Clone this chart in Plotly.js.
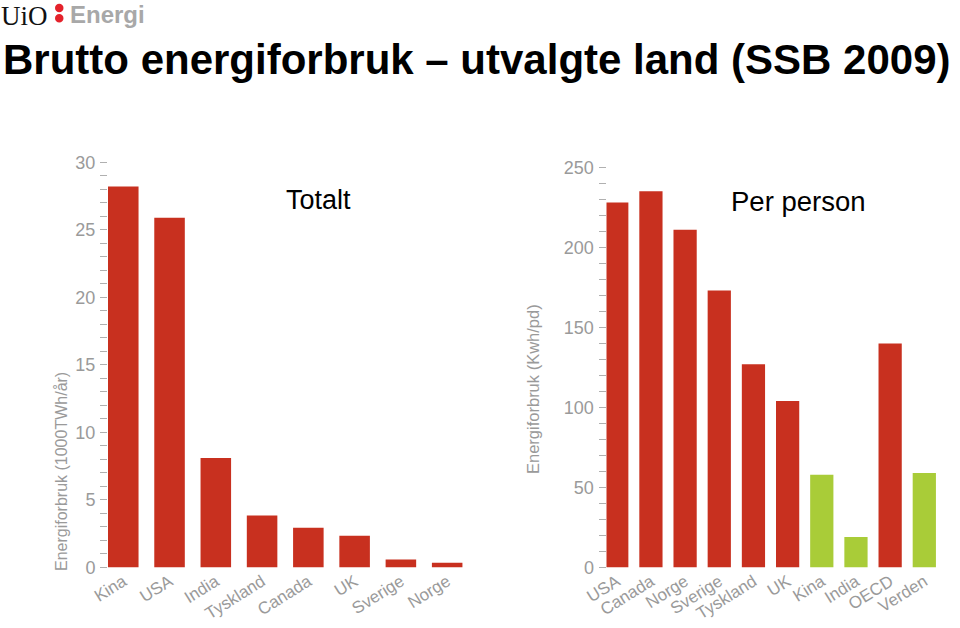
<!DOCTYPE html>
<html>
<head>
<meta charset="utf-8">
<script src="https://cdn.plot.ly/plotly-3.0.1.min.js"></script>
<style>html,body{margin:0;padding:0;background:#fff;}#chart{width:960px;height:628px;}</style>
</head>
<body>
<div id="chart"></div>
<script>
// ---- data ----
var totalCountries = ["Kina", "USA", "India", "Tyskland", "Canada", "UK", "Sverige", "Norge"];
var totalValues = [28.2, 25.9, 8.1, 3.85, 2.95, 2.35, 0.6, 0.36];
var perCountries = ["USA", "Canada", "Norge", "Sverige", "Tyskland", "UK", "Kina", "India", "OECD", "Verden"];
var perValues = [228, 235, 211, 173, 127, 104, 58, 19, 140, 59];
var perGroup = ["rich", "rich", "rich", "rich", "rich", "rich", "dev", "dev", "rich", "dev"];
var titleText = "Brutto energiforbruk – utvalgte land (SSB 2009)";
var leftLabel = "Totalt";
var rightLabel = "Per person";
var leftYTitle = "Energiforbruk (1000TWh/år)";
var rightYTitle = "Energiforbruk (Kwh/pd)";

// ---- styling ----
var W = 960, H = 628;
function fx(p) { return p / W; }
function fy(p) { return 1 - p / H; }
var RED = "#c8301f", GREEN = "#a9cc38";
var GREY = "#9a9a9a";
var tickFont = {family: "Liberation Sans, Arial, sans-serif", size: 18, color: GREY};
var xTickFont = {family: "Liberation Sans, Arial, sans-serif", size: 17, color: GREY};

var traces = [
  {type: "bar", x: totalCountries, y: totalValues, xaxis: "x", yaxis: "y",
   marker: {color: RED}, width: 0.66, hoverinfo: "x+y"},
  {type: "bar", x: perCountries, y: perValues, xaxis: "x2", yaxis: "y2",
   marker: {color: perGroup.map(function (g) { return g === "dev" ? GREEN : RED; })},
   width: 0.68, hoverinfo: "x+y"}
];

function yAxis(domTop, range, dtick, minor) {
  return {
    domain: [fy(567.5), fy(domTop)], range: range, dtick: dtick,
    ticks: "outside", ticklen: 7, tickwidth: 1, tickcolor: "#b0b0b0",
    minor: {dtick: minor, ticks: "outside", ticklen: 7, tickwidth: 1, tickcolor: "#b0b0b0", showgrid: false},
    showgrid: false, zeroline: false, showline: false,
    tickfont: tickFont, ticklabelstandoff: 1, fixedrange: true
  };
}
function xAxis(l, r, range, anchor) {
  return {
    domain: [fx(l), fx(r)], range: range, anchor: anchor,
    ticks: "", showgrid: false, zeroline: false, showline: false,
    tickangle: -32, tickfont: xTickFont, fixedrange: true
  };
}

var layout = {
  width: W, height: H,
  margin: {l: 0, r: 0, t: 0, b: 0},
  paper_bgcolor: "#ffffff", plot_bgcolor: "#ffffff",
  showlegend: false,
  xaxis: xAxis(108, 470.3, [-0.33, 7.5], "y"),
  yaxis: yAxis(162.3, [0, 30], 5, 1),
  xaxis2: xAxis(606.5, 941.4, [-0.3, 9.5], "y2"),
  yaxis2: Object.assign(yAxis(167.3, [0, 250], 50, 10), {anchor: "x2"}),
  shapes: [
    {type: "circle", xref: "paper", yref: "paper", x0: fx(55), x1: fx(63.5), y0: fy(12.3), y1: fy(3.8),
     fillcolor: "#e4222b", line: {width: 0}},
    {type: "circle", xref: "paper", yref: "paper", x0: fx(55), x1: fx(63.5), y0: fy(22.6), y1: fy(14.1),
     fillcolor: "#e4222b", line: {width: 0}}
  ],
  annotations: [
    {xref: "paper", yref: "paper", x: fx(0), y: fy(0), xanchor: "left", yanchor: "top", showarrow: false,
     borderpad: 0, text: "UiO", font: {family: "Liberation Serif, Times New Roman, serif", size: 27, color: "#111"}},
    {xref: "paper", yref: "paper", x: fx(69), y: fy(0), xanchor: "left", yanchor: "top", showarrow: false,
     borderpad: 0, text: "<b>Energi</b>", font: {family: "Liberation Sans, Arial, sans-serif", size: 24, color: "#a8a8a8"}},
    {xref: "paper", yref: "paper", x: fx(2), y: fy(35), xanchor: "left", yanchor: "top", showarrow: false,
     borderpad: 0, text: "<b>" + titleText + "</b>", font: {family: "Liberation Sans, Arial, sans-serif", size: 42, color: "#000"}},
    {xref: "paper", yref: "paper", x: fx(318.5), y: fy(200), xanchor: "center", yanchor: "middle", showarrow: false,
     text: leftLabel, font: {family: "Liberation Sans, Arial, sans-serif", size: 27, color: "#000"}},
    {xref: "paper", yref: "paper", x: fx(798.5), y: fy(201), xanchor: "center", yanchor: "middle", showarrow: false,
     text: rightLabel, font: {family: "Liberation Sans, Arial, sans-serif", size: 27.5, color: "#000"}},
    {xref: "paper", yref: "paper", x: fx(61), y: fy(472), xanchor: "center", yanchor: "middle", showarrow: false,
     textangle: -90, text: leftYTitle, font: {family: "Liberation Sans, Arial, sans-serif", size: 16, color: GREY}},
    {xref: "paper", yref: "paper", x: fx(533), y: fy(389), xanchor: "center", yanchor: "middle", showarrow: false,
     textangle: -90, text: rightYTitle, font: {family: "Liberation Sans, Arial, sans-serif", size: 16.5, color: GREY}}
  ]
};

Plotly.newPlot("chart", traces, layout, {displayModeBar: false, staticPlot: true});
</script>
</body>
</html>
